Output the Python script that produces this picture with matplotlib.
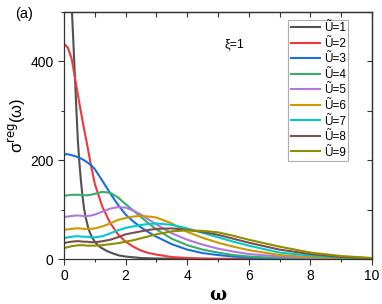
import numpy as np
import matplotlib
matplotlib.use("Agg")
import matplotlib.pyplot as plt
from matplotlib.ticker import MultipleLocator

plt.rcParams['font.family'] = ['Liberation Sans', 'DejaVu Sans']

# ---- data ----
w1 = [0.2, 0.26, 0.3, 0.35, 0.4, 0.45, 0.5, 0.55, 0.6, 0.65, 0.7, 0.8, 0.9, 1.0, 1.1, 1.2,
      1.4, 1.6, 1.8, 2.0, 2.5, 3.0, 4.0, 5.0, 10.0]
s1 = [590, 500, 445, 375, 305, 240, 195, 158, 128, 103, 85, 60, 45, 35, 28, 23,
      16, 11, 7, 5, 2, 1, 0.3, 0.1, 0]

w = [0, 0.125, 0.25, 0.375, 0.5, 0.625, 0.75, 0.875, 1.0, 1.25, 1.5, 1.75, 2.0, 2.25, 2.5,
     2.75, 3.0, 3.5, 4.0, 4.5, 5.0, 5.5, 6.0, 7.0, 8.0, 9.0, 10.0]
s2 = [436, 428, 405, 360, 315, 272, 232, 190, 152, 105, 73, 50, 35, 25, 17,
      12, 9, 4, 2, 1, 0.5, 0.3, 0.2, 0.1, 0, 0, 0]
s3 = [212, 212, 210, 208, 205, 201, 196, 190, 182, 158, 133, 110, 90, 76, 64,
      54, 45, 30, 19, 12, 8, 5, 3, 1.2, 0.5, 0.2, 0]
s4 = [128, 129, 130, 130, 130, 129, 129, 130, 132, 136, 134, 125, 111, 98, 85,
      72, 60, 41, 28, 19, 13, 8, 5, 2, 1, 0.5, 0.2]
s5 = [85, 86, 87, 88, 88, 87, 87, 88, 90, 96, 102, 105, 104, 98, 90,
      80, 70, 52, 39, 29, 21, 15, 10, 5, 2, 1, 0.3]
s6 = [59, 60, 61, 62, 62, 61, 61, 61, 62, 66, 72, 79, 83, 86, 87,
      86, 84, 72, 55, 43, 33, 25, 18, 8, 4, 1.5, 0.5]
s7 = [42, 44, 45, 46, 46, 45, 45, 44, 44, 46, 52, 58, 63, 66, 69,
      71, 72, 69, 62, 53, 44, 35, 27, 13, 7, 3, 1]
s8 = [32, 34, 35, 36, 36, 35, 35, 34, 34, 36, 39, 44, 50, 53, 56,
      59, 61, 62, 59, 55, 49, 41, 33, 19, 10, 4, 1.5]
s9 = [22, 24, 26, 27, 28, 28, 27, 27, 27, 28, 30, 32, 35, 38, 42,
      46, 50, 56, 58, 57, 54, 47, 39, 25, 13, 6, 2]

labels = ['Ũ=1', 'Ũ=2', 'Ũ=3', 'Ũ=4', 'Ũ=5', 'Ũ=6', 'Ũ=7', 'Ũ=8', 'Ũ=9']
colors = ['#515151', '#F0383C', '#1A6FDF', '#37AD6B', '#B177DE', '#CC9900', '#00CBCC', '#7D4E4E', '#8E8E00']

fig = plt.figure(figsize=(3.82, 3.04), dpi=100)
ax = fig.add_axes([0.1675, 0.148, 0.8065, 0.8125])

series = [(w1, s1)] + [(w, s) for s in (s2, s3, s4, s5, s6, s7, s8, s9)]
for (xs, ys), c, lab in zip(series, colors, labels):
    ax.plot(xs, ys, color=c, lw=1.5, label=lab, solid_joinstyle='round')

ax.set_xlim(0, 10)
ax.set_ylim(0, 500)
ax.xaxis.set_major_locator(MultipleLocator(2))
ax.xaxis.set_minor_locator(MultipleLocator(1))
ax.yaxis.set_major_locator(MultipleLocator(200))
ax.yaxis.set_minor_locator(MultipleLocator(100))
ax.tick_params(axis='both', which='both', labelsize=10, width=0.8, color='#333333')
ax.tick_params(which='major', length=4, direction='out')
ax.tick_params(which='minor', length=2.5, direction='out')

# mirrored inward ticks on top/right
secx = ax.secondary_xaxis('top')
secx.xaxis.set_major_locator(MultipleLocator(2))
secx.xaxis.set_minor_locator(MultipleLocator(1))
secx.tick_params(which='both', direction='in', length=3.5, labeltop=False, width=0.8, color='#333333')
secy = ax.secondary_yaxis('right')
secy.yaxis.set_major_locator(MultipleLocator(200))
secy.yaxis.set_minor_locator(MultipleLocator(100))
secy.tick_params(which='both', direction='in', length=3.5, labelright=False, width=0.8, color='#333333')
for sp in list(ax.spines.values()) + [secx.spines['top'], secy.spines['right']]:
    sp.set_color('#333333')
    sp.set_linewidth(0.9)

ax.set_xlabel('ω', fontsize=13, fontweight='bold', family=['DejaVu Serif'], labelpad=2)
ax.set_ylabel('σ$^{\\rm reg}$(ω)', fontsize=12)
ax.yaxis.set_label_coords(-0.117, 0.54)

fig.text(0.04, 0.955, '(a)', fontsize=10.5, va='center')
ax.text(0.52, 0.87, 'ξ=1', transform=ax.transAxes, fontsize=9, va='center')

leg = ax.legend(loc='upper right', bbox_to_anchor=(0.922, 0.968), fontsize=8.5,
                frameon=True, fancybox=False, edgecolor='#999999',
                handlelength=2.5, handletextpad=0.3, labelspacing=0.3,
                borderpad=0.2, borderaxespad=0.0)
leg.get_frame().set_linewidth(0.8)

fig.savefig('out.png', dpi=100)
